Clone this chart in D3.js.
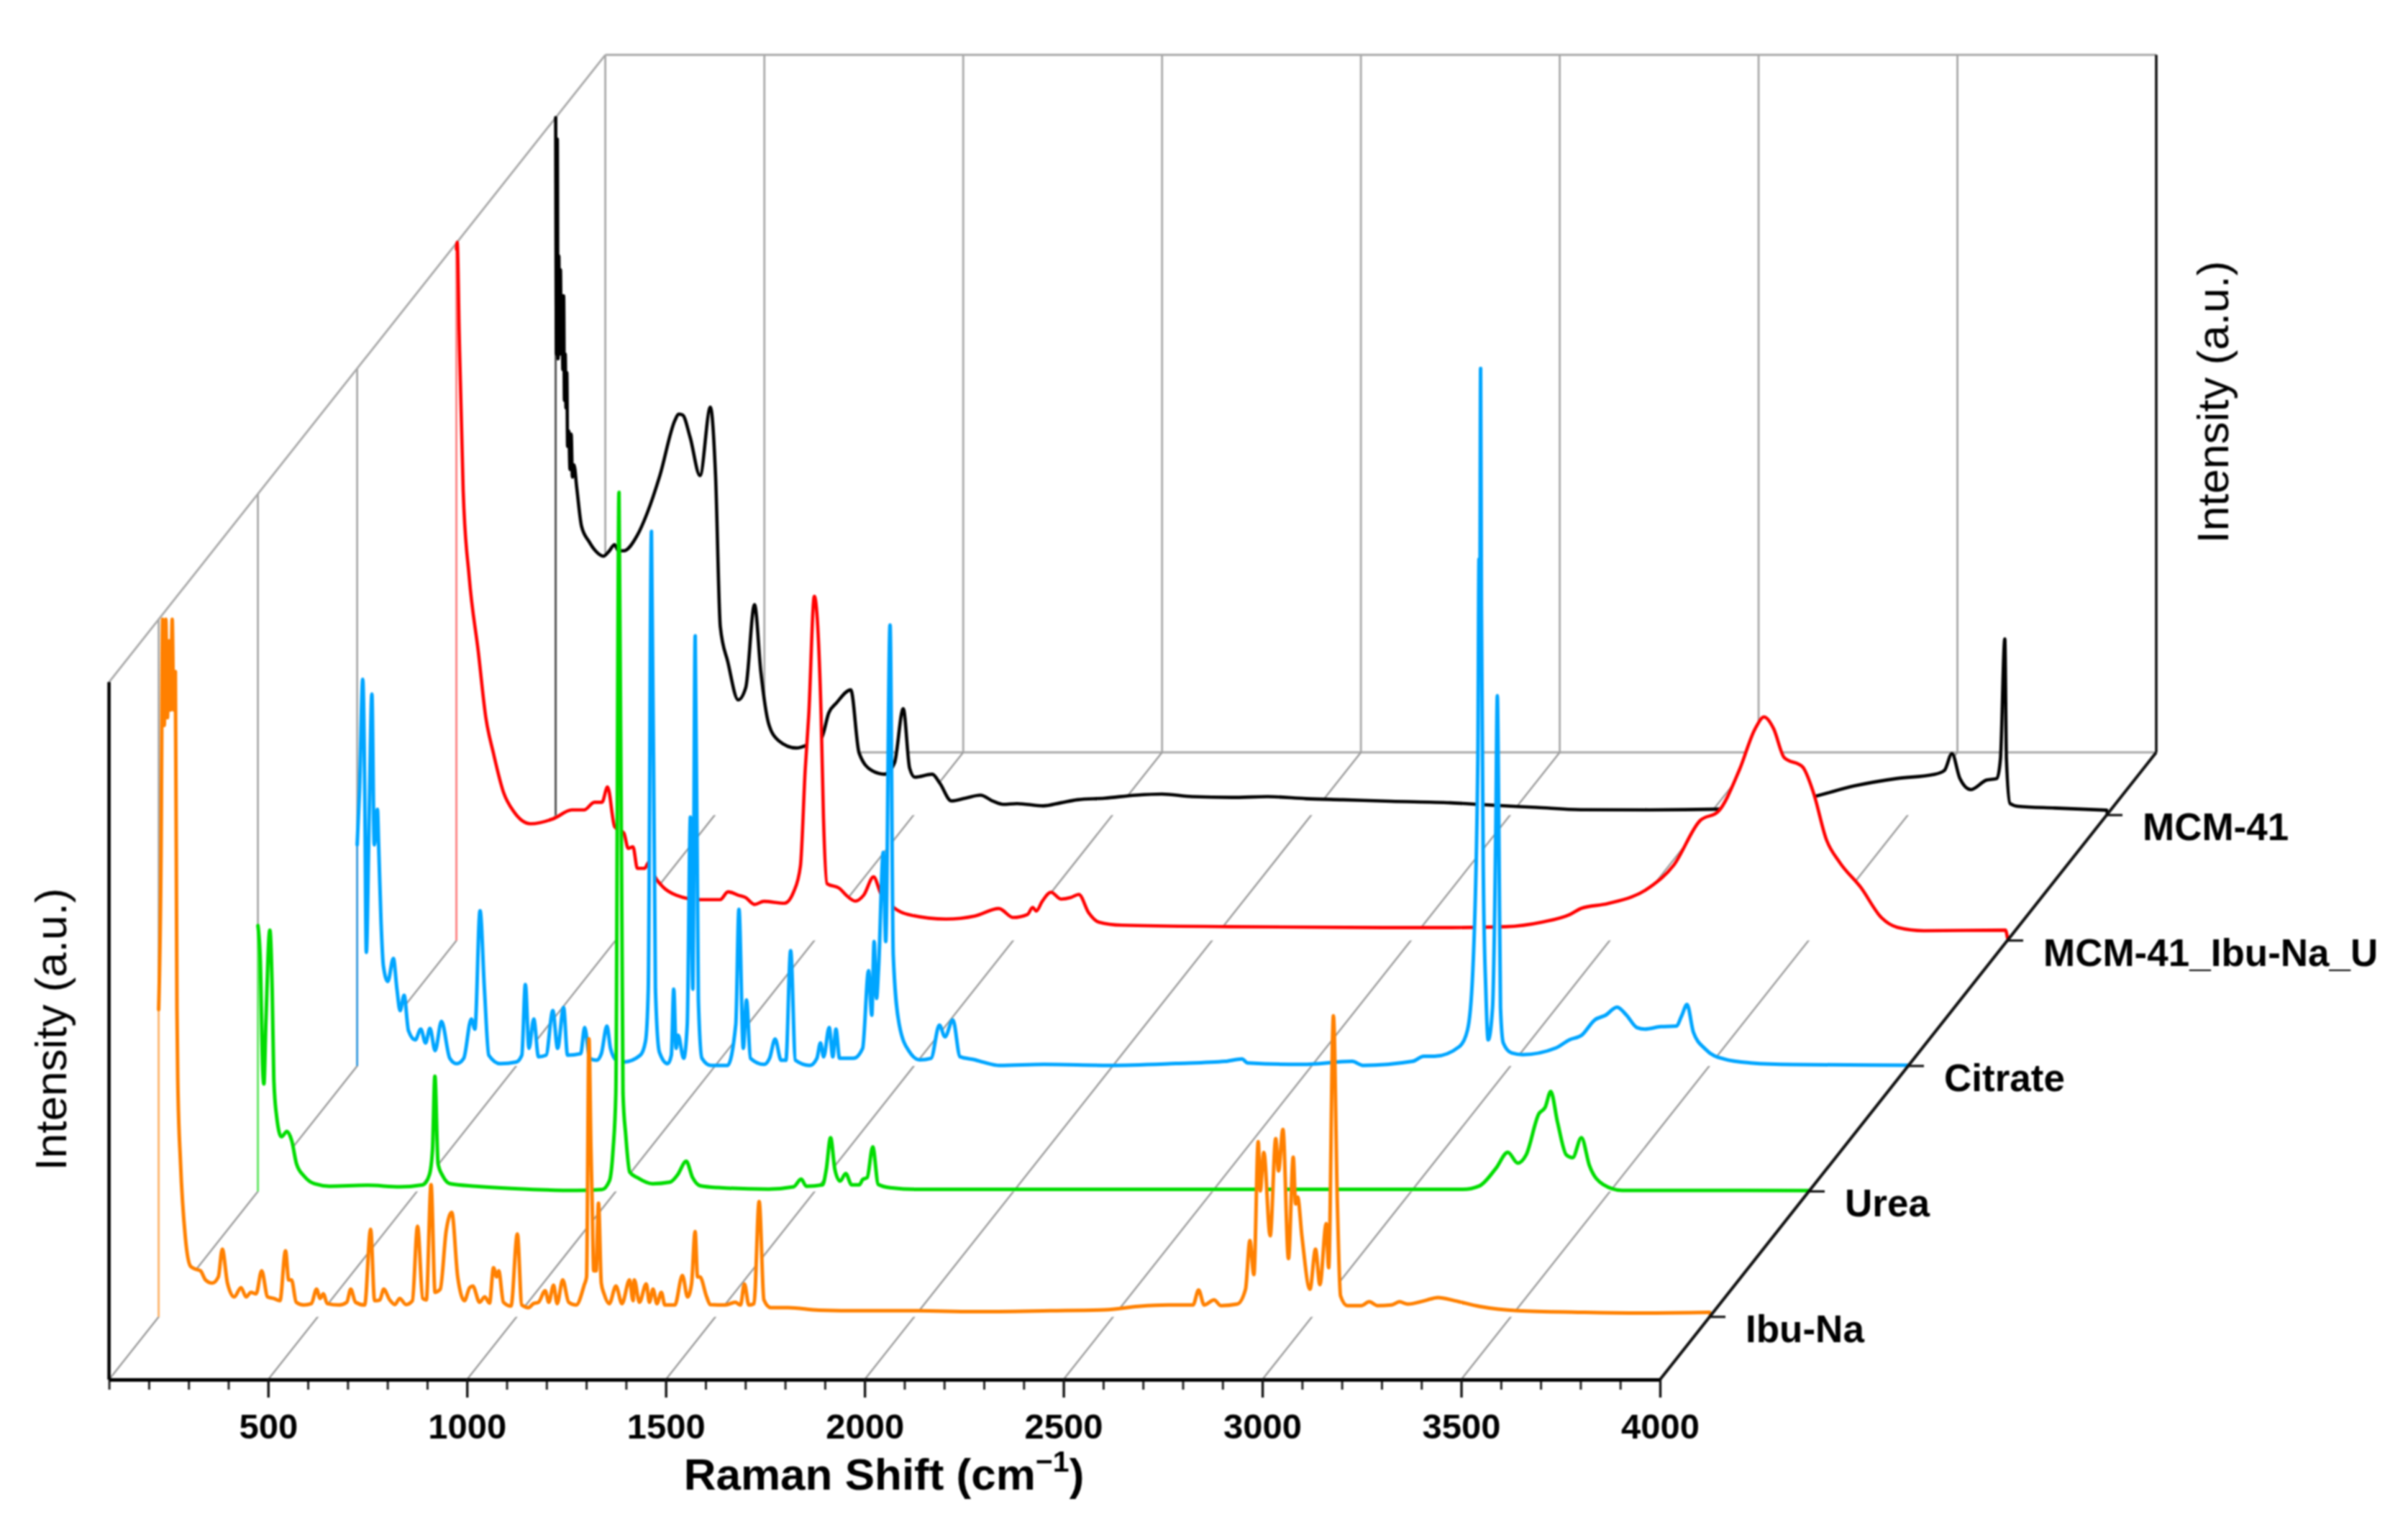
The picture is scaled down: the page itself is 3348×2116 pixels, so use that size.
<!DOCTYPE html>
<html><head><meta charset="utf-8">
<script src="https://cdn.jsdelivr.net/npm/d3@7"></script>
<style>html,body{margin:0;padding:0;background:#fff}svg{display:block;filter:blur(0.9px)}text{font-family:"Liberation Sans",Arial,sans-serif;fill:#000}</style>
</head><body><svg id="c" width="3348" height="2116"></svg>
<script>
// Raman spectra as [shift in cm-1, intensity in a.u.]
const ibuNa = [[100,200],[106,300],[110,454],[114,385],[118,454],[122,390],[126,440],[130,395],[134,454],[138,395],[142,420],[146,200],[148,155],[155,100],[167,52],[180,33],[193,31],[205,30],[218,24],[235,22],[250,26],[260,44],[273,22],[290,13],[307,19],[320,13],[332,16],[345,15],[359,30],[374,13],[389,12],[405,10.5],[419,43],[427,24],[434,24],[446,9.5],[465,7.7],[484,8.6],[497,18],[506,12],[514,15],[524,8.6],[554,7.7],[573,9.5],[583,18],[595,9.5],[618,7.7],[633,57],[643,10.5],[656,11],[666,18],[681,11],[694,8],[706,12],[722,8],[738,10.5],[751,59],[764,12],[773,11],[785,86],[795,16],[808,18],[823,56],[837,68],[852,26],[869,10.5],[882,19],[890,20],[907,9.5],[920,13],[932,9],[942,32],[950,26],[955,30],[967,9.5],[986,7],[1002,54],[1013,7.7],[1030,6],[1042,8.6],[1055,9.5],[1072,17],[1081,9.5],[1093,20.6],[1102,8.6],[1116,24],[1131,9.5],[1150,7.7],[1170,20.6],[1176,26],[1182,181],[1187,110],[1190,75],[1194,30],[1200,30],[1206,74],[1213,22],[1220,15],[1233,8.6],[1250,20],[1265,8.6],[1284,24],[1293,10.5],[1296,24],[1309,9.5],[1326,21.5],[1334,9.5],[1343,18],[1353,8.6],[1364,16],[1373,7.7],[1398,7.7],[1417,27],[1430,13],[1440,21.5],[1449,55.5],[1455,26],[1461,26],[1478,13],[1487,8],[1525,7.7],[1550,9.5],[1563,7.7],[1573,21.5],[1584,7.7],[1597,8.6],[1610,75],[1622,11],[1639,6],[1683,6],[1760,4.4],[1871,4],[2009,4],[2148,3.4],[2342,4],[2480,4.6],[2563,6.8],[2639,7.7],[2701,7.7],[2715,17.5],[2729,7.7],[2754,11],[2771,7.3],[2812,8.3],[2833,18],[2844,49.6],[2854,27.5],[2865,114],[2870,82],[2879,107],[2895,52.8],[2909,116],[2916,95],[2927,122],[2941,38],[2953,104],[2959,73.5],[2964,78],[2975,52],[2995,18],[3009,44],[3020,21],[3036,60.7],[3042,32],[3054,196],[3064,73],[3072,13.6],[3089,7.3],[3124,7.3],[3144,9.8],[3165,7.3],[3200,7.7],[3220,9.8],[3241,8.3],[3283,10.5],[3317,12.6],[3359,10.5],[3421,6.8],[3518,4],[3670,3],[3809,2.5],[4000,3]];
const urea = [[100,173],[106,150],[112,80],[115,70],[120,110],[130,170],[136,130],[140,73],[147,49],[159,35.6],[173,39],[185,33],[197,18],[216,10],[242,5],[280,3.4],[375,4],[457,3],[515,4.3],[531,10.7],[539,27],[545,75],[553,18],[565,10],[584,5],[648,3.4],[775,1.5],[901,0.6],[965,1.2],[984,7],[993,27],[1000,64],[1008,455],[1018,64],[1025,36.5],[1035,12.6],[1054,9],[1092,5],[1136,6],[1155,10.7],[1177,19.6],[1193,9],[1212,3.7],[1257,2.5],[1384,1.5],[1447,3],[1466,8],[1479,3.4],[1520,4.3],[1529,14],[1540,35],[1551,14],[1564,6.7],[1578,11.7],[1593,4.3],[1612,4.3],[1621,7.8],[1632,9],[1646,29],[1660,4.5],[1690,2.4],[1759,1.3],[3130,1.3],[3171,3.5],[3213,15],[3243,25.5],[3268,18.4],[3289,23.8],[3321,50.5],[3337,54.8],[3351,65],[3368,45],[3390,23.8],[3406,22],[3428,35],[3448,17],[3483,4.5],[3531,0.7],[3586,0.7],[4000,0.5]];
const citrate = [[100,144],[106,180],[114,251.6],[119,180],[123,74],[130,160],[137,242],[143,144],[151,167],[154,144],[160,94],[166,65],[177,55],[191,70],[200,50],[208,36],[218,46],[229,23],[246,17],[260,24],[272,15],[283,24.5],[296,10],[312,29],[333,5],[350,1.5],[368,5],[387,30.6],[396,24],[409,101],[420,50],[431,7],[460,1.5],[500,2.6],[514,7],[523,53],[532,11.5],[544,30.6],[556,6],[575,7],[592,36],[604,11.5],[619,38],[629,7],[662,8],[672,25],[685,5],[702,3.7],[714,8],[728,26],[737,11.5],[752,3.7],[771,2.6],[812,7],[825,16],[832,50],[840,348],[850,50],[860,9],[881,1.5],[890,7],[896,50],[902,11.5],[907,20],[921,5],[930,27],[938,162],[944,50],[950,280],[958,43],[967,5],[990,0.3],[1031,0.3],[1052,27],[1060,102],[1071,11.5],[1079,43],[1089,5],[1123,1],[1137,5],[1151,17.6],[1166,3.7],[1178,3.7],[1190,75],[1202,3.7],[1238,0.3],[1256,5],[1265,15],[1273,6],[1287,25],[1296,6],[1304,24],[1313,5],[1348,5],[1371,11.5],[1386,62],[1394,33],[1400,81],[1406,44],[1411,63],[1423,139],[1429,81],[1440,287],[1448,72],[1463,27],[1488,9.5],[1515,4],[1543,5],[1564,26.6],[1578,19],[1598,30],[1616,6],[1654,4],[1674,2.5],[1716,0.3],[1827,1],[1993,0.4],[2159,1.6],[2283,3],[2325,4.6],[2339,2],[2477,1],[2602,3],[2629,0.4],[2754,3],[2782,6.3],[2809,6.3],[2872,12.7],[2892,23.4],[2905,60],[2918,200],[2921,330],[2923,300],[2925,454],[2927,300],[2932,120],[2938,50],[2944,17],[2955,38],[2963,150],[2967,241],[2971,150],[2975,38],[2982,15],[3003,8.5],[3031,7.4],[3114,11.7],[3148,17],[3179,20],[3212,30],[3239,33],[3268,38.3],[3292,33],[3318,25],[3338,24],[3378,25.6],[3417,26],[3431,33],[3444,40],[3460,22],[3490,11],[3536,4.6],[3603,2],[3709,0.9],[4000,0.5]];
const mcmIbuU = [[100,450],[102,454.5],[107,395],[117,293],[132,237],[155,188],[174,145],[193,122],[219,96],[244,84],[286,76],[345,79.4],[390,85],[421,85],[447,90],[466,90],[480,100],[498,74],[521,70],[532,60],[544,61],[555,47],[573,47],[584,51],[596,43],[619,35],[653,29.5],[711,26.6],[763,26.6],[783,31.7],[809,29.5],[827,28],[850,23.5],[873,25.5],[925,24.3],[948,31.7],[965,48.5],[977,111],[986,147],[1000,224],[1017,147],[1023,80],[1032,37],[1063,34],[1080,29.5],[1103,25.7],[1124,29.5],[1149,41.4],[1167,30.6],[1199,21.6],[1235,17],[1331,14],[1404,16],[1464,20.8],[1500,15],[1536,17],[1549,21.6],[1558,19.2],[1573,25.5],[1595,31.4],[1620,27],[1645,28],[1665,30],[1690,18],[1715,12],[1773,10],[2043,9],[2430,8.4],[2600,8.4],[2738,9],[2830,12],[2900,17],[2929,21],[2995,24],[3101,34.7],[3161,49],[3227,78],[3273,84],[3326,111],[3366,138],[3388,145.5],[3412,138],[3439,119],[3485,113],[3512,96.5],[3545,65.6],[3578,51],[3631,34.7],[3684,14.7],[3723,8.6],[3790,6.4],[3995,6.8],[4000,2]];
const mcm41 = [[100,454],[102,300],[104,440],[106,297],[108,364],[110,300],[112,355],[114,303],[116,338],[118,290],[120,338],[122,270],[124,300],[126,265],[128,288],[130,240],[133,250],[136,225],[139,248],[142,220],[146,228],[153,213],[165,188],[184,178],[200,172],[220,168.5],[235,172],[248,176],[258,172],[271,172],[305,182],[330,196.5],[362,221],[400,257],[409,261],[419,260.5],[438,246],[463,221],[489,265.5],[502,221],[514,122.5],[533,99.6],[559,75],[578,83],[600,137],[616,93],[635,60],[660,48.6],[705,43.7],[736,46],[768,50],[787,66.7],[806,73],[842,81.5],[863,40.4],[895,29],[927,26.6],[952,34],[974,69.3],[990,30.6],[1003,24.7],[1047,26.6],[1066,20.7],[1095,9.2],[1130,11],[1168,13],[1200,9],[1225,7],[1260,7.5],[1326,6],[1370,8],[1412,10],[1480,11],[1560,13],[1624,13.7],[1700,12],[1800,11.5],[1890,12],[1987,10.7],[2080,10],[2200,9],[2350,8],[2450,6.5],[2566,5],[2678,3.5],[2850,3.4],[3029,3.9],[3261,11.9],[3366,19],[3472,23.8],[3565,26.4],[3592,29],[3611,40],[3631,23.8],[3658,16.6],[3698,22.8],[3724,23.8],[3733,36.6],[3744,114.7],[3748,36.6],[3757,7.5],[3777,5.7],[3870,4.6],[4000,3.2]];

const seriesNames = ["MCM-41","MCM-41_Ibu-Na_U","Citrate","Urea","Ibu-Na"];
const seriesData = [mcm41,mcmIbuU,citrate,urea,ibuNa];
const seriesDepth = [0.9,0.7,0.5,0.3,0.1];
const seriesColor = ["#000000","#ff0000","#00a5ff","#00dc00","#ff8000"];
const seriesDrop = ["#555555","#ff8888","#3a9ce0","#66e866","#ffb870"];
const seriesWidth = [4.6,4.6,5,5,5];
const majorTicks = [500,1000,1500,2000,2500,3000,3500,4000];
const minorTicks = d3.range(100,4001,100).filter(v=>v%500!==0);
const gridShifts = [100,500,1000,1500,2000,2500,3000,3500];
const xLabel = "Raman Shift (cm";
const yLabel = "Intensity (a.u.)";
const wallTop = 454;

const origin = {x:151.6,y:1918};
const x = d3.scaleLinear().domain([100,4000]).range([0,2156.4]);
const y = d3.scaleLinear().domain([0,456]).range([0,974]);
const dx = d3.scaleLinear().domain([0,1]).range([0,690]);
const dy = d3.scaleLinear().domain([0,1]).range([0,872]);
const P = (w,h,d)=>[origin.x+x(w)+dx(d), origin.y-y(h)-dy(d)];
const line3 = d3.line().x(p=>p[0]).y(p=>p[1]);
const svg = d3.select("#c");
const seg=(g,a,b,col,sw)=>g.append("path").attr("d",line3([a,b])).attr("fill","none").attr("stroke",col).attr("stroke-width",sw);

// walls and floor grid
const grid = svg.append("g");
const gc="#a8a8a8";
seg(grid,P(100,0,1),P(4000,0,1),gc,2.8);
seg(grid,P(100,wallTop,1),P(4000,wallTop,1),gc,2.8);
seg(grid,P(100,wallTop,0),P(100,wallTop,1),gc,2.8);
gridShifts.forEach(w=>{
  seg(grid,P(w,0,1),P(w,wallTop,1),gc,2.8);
  seg(grid,P(w,0,0),P(w,0,1),"#9a9a9a",2.4);
});
seriesDepth.forEach(d=>seg(grid,P(100,0,d),P(100,wallTop,d),gc,2.8));
seg(grid,P(4000,0,1),P(4000,wallTop,1),"#111",3.6);

// spectra, back to front, each hiding what lies behind it
seriesData.forEach((data,i)=>{
  const d=seriesDepth[i],c=seriesColor[i];
  const first=data[0],last=data[data.length-1];
  const area=d3.area().curve(d3.curveMonotoneX)
    .x(p=>P(p[0],0,d)[0]).y0(P(100,0,d)[1]).y1(p=>P(p[0],p[1],d)[1]);
  const curve=d3.line().curve(d3.curveMonotoneX)
    .x(p=>P(p[0],p[1],d)[0]).y(p=>P(p[0],p[1],d)[1]);
  svg.append("path").attr("d",area(data)).attr("fill","#fff").attr("stroke","none");
  seg(svg,P(first[0],0,d),P(first[0],first[1],d),seriesDrop[i],3);
  seg(svg,P(last[0],0,d),P(last[0],last[1],d),c,3);
  svg.append("path").attr("d",curve(data)).attr("fill","none").attr("stroke",c)
    .attr("stroke-width",seriesWidth[i]).attr("stroke-linejoin","round").attr("stroke-linecap","round");
});

// axes
seg(svg,P(100,0,0),P(100,wallTop,0),"#000",4.6);
seg(svg,P(4000,0,0),P(4000,0,1),"#111",4.2);
const axisG=svg.append("g").attr("transform",`translate(${origin.x},${origin.y})`);
axisG.append("g").call(d3.axisBottom(x).tickValues(minorTicks).tickSize(14).tickFormat(""))
  .call(g=>g.selectAll(".tick line").attr("stroke-width",3).attr("stroke","#222")).call(g=>g.select(".domain").remove());
const maj=axisG.append("g").call(d3.axisBottom(x).tickValues(majorTicks).tickSize(25).tickPadding(22).tickSizeOuter(0).tickFormat(d3.format("d")));
maj.select(".domain").attr("stroke","#000").attr("stroke-width",5);
maj.selectAll(".tick line").attr("stroke-width",3.4).attr("stroke","#111");
maj.selectAll(".tick text").attr("font-size",49).attr("font-weight",700).attr("font-family","Liberation Sans").attr("fill","#000");

seriesNames.forEach((n,i)=>{
  const [px,py]=P(4000,0,seriesDepth[i]);
  svg.append("line").attr("x1",px).attr("x2",px+22).attr("y1",py).attr("y2",py).attr("stroke","#111").attr("stroke-width",3.2);
  svg.append("text").attr("x",px+50).attr("y",py+35).attr("font-size",53).attr("font-weight",700).text(n);
});

const t=svg.append("text").attr("x",1229).attr("y",2071).attr("text-anchor","middle").attr("font-size",62).attr("font-weight",700);
t.append("tspan").text(xLabel);
t.append("tspan").text("\u22121").attr("font-size",41).attr("dy",-25);
t.append("tspan").text(")").attr("dy",25);

svg.append("text").attr("transform","translate(92,1431) rotate(-90)").attr("text-anchor","middle").attr("font-size",62).text(yLabel);
svg.append("text").attr("transform","translate(3098,559) rotate(-90)").attr("text-anchor","middle").attr("font-size",62).text(yLabel);
</script></body></html>
